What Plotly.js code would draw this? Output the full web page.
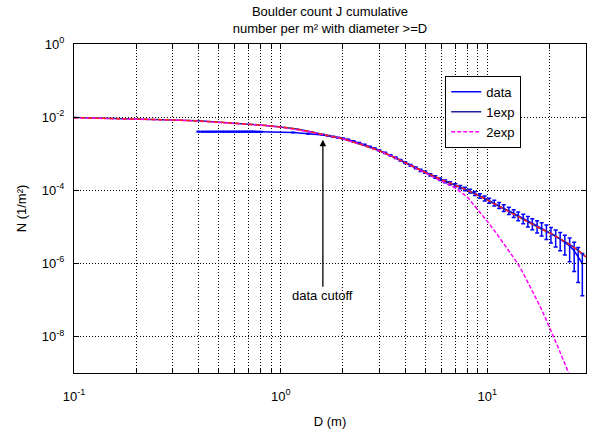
<!DOCTYPE html>
<html>
<head>
<meta charset="utf-8">
<script src="https://cdn.plot.ly/plotly-3.0.1.min.js"></script>
<style>html,body{margin:0;padding:0;background:#fff;}#chart{width:594px;height:433px;}</style>
</head>
<body>
<div id="chart"></div>
<script>
// Measured boulder data (cumulative number per m2 with diameter >= D)
var dataD = [0.40,0.42,0.44,0.46,0.48,0.50,0.52,0.54,0.56,0.58,0.60,0.62,0.64,0.66,0.68,0.70,0.72,0.74,0.76,0.78,0.80,
  1.15,1.36,1.6,1.7,1.8,1.9,2.0,2.12,2.25,2.4,2.55,2.7,2.85,3.0,3.2,3.4,3.6,3.8,4.0,4.25,4.5,4.75,5.0,5.3,5.6,5.9,
  6.25,6.6,7.0,7.4,7.8,8.25,8.7,9.2,9.7,10.2,10.8,11.4,12.0,12.7,13.4,14.1,14.9,15.7,16.5,17.4,18.3,19.3,20.3,
  21.4,22.5,23.7,25.0,26.3,27.5,28.8];
var dataN = [4.0e-3,4.0e-3,4.0e-3,4.0e-3,4.0e-3,4.0e-3,4.0e-3,4.0e-3,4.0e-3,4.0e-3,4.0e-3,4.0e-3,4.0e-3,4.0e-3,4.0e-3,4.0e-3,4.0e-3,4.0e-3,3.98e-3,3.97e-3,3.96e-3,
  3.8e-3,3.55e-3,3.25e-3,3.05e-3,2.9e-3,2.75e-3,2.6e-3,2.4e-3,2.2e-3,1.95e-3,1.75e-3,1.55e-3,1.38e-3,1.22e-3,1.05e-3,9.0e-4,7.7e-4,6.6e-4,5.7e-4,4.8e-4,4.1e-4,3.5e-4,3.1e-4,2.65e-4,2.3e-4,2.0e-4,
  1.75e-4,1.55e-4,1.38e-4,1.22e-4,1.08e-4,9.5e-5,8.2e-5,7.0e-5,6.0e-5,5.2e-5,4.5e-5,3.9e-5,3.3e-5,2.8e-5,2.35e-5,2.0e-5,1.7e-5,1.45e-5,1.25e-5,1.07e-5,9.2e-6,7.8e-6,6.6e-6,
  5.5e-6,4.6e-6,3.8e-6,3.0e-6,2.2e-6,1.5e-6,1.0e-6];
var dataErr = [8e-5,8e-5,8e-5,8e-5,8e-5,8e-5,8e-5,8e-5,8e-5,8e-5,8e-5,8e-5,8e-5,8e-5,8e-5,8e-5,8e-5,8e-5,8e-5,8e-5,8e-5,
  8e-5,8e-5,8e-5,7.5e-5,7.5e-5,7e-5,7e-5,7e-5,6.5e-5,6e-5,5.5e-5,5e-5,4.8e-5,4.5e-5,4.2e-5,3.8e-5,3.5e-5,3.3e-5,3.0e-5,2.7e-5,2.5e-5,2.3e-5,2.1e-5,1.9e-5,1.8e-5,1.6e-5,
  1.5e-5,1.45e-5,1.35e-5,1.3e-5,1.2e-5,1.1e-5,1.0e-5,9.5e-6,9.0e-6,8.3e-6,7.8e-6,7.2e-6,6.8e-6,6.3e-6,5.7e-6,5.3e-6,4.9e-6,4.6e-6,4.2e-6,3.9e-6,3.6e-6,3.3e-6,3.0e-6,
  2.7e-6,2.4e-6,2.1e-6,1.9e-6,1.6e-6,1.2e-6,0.87e-6];

// Fits
var fitD = [0.1,0.15,0.2,0.3,0.4,0.5,0.6,0.8,1.0,1.2,1.4,1.6,2.0,2.5,3.0,3.5,4.0,5.0,6.0,7.0,8.0,9.0,10,12,14,16,18,20,22,25,28,30];
var fit1N = [9.7e-3,9.3e-3,8.9e-3,8.4e-3,7.9e-3,7.3e-3,6.9e-3,6.1e-3,5.4e-3,4.7e-3,3.95e-3,3.3e-3,2.55e-3,1.72e-3,1.2e-3,8.2e-4,5.6e-4,3.1e-4,1.95e-4,1.4e-4,1.0e-4,7.2e-5,5.4e-5,3.1e-5,1.9e-5,1.25e-5,9.0e-6,6.8e-6,5.0e-6,3.3e-6,2.1e-6,1.5e-6];
var fit2D = [0.1,0.15,0.2,0.3,0.4,0.5,0.6,0.8,1.0,1.2,1.4,1.6,2.0,2.5,3.0,3.5,4.0,5.0,6.0,7.0,8.0,9.0,10,11,12,13,14,15,16,17,18,19,20,22,24,25,26];
var fit2N = [9.6e-3,9.2e-3,8.8e-3,8.3e-3,7.8e-3,7.2e-3,6.8e-3,6.0e-3,5.3e-3,4.6e-3,3.9e-3,3.3e-3,2.55e-3,1.72e-3,1.2e-3,8.2e-4,5.6e-4,3.05e-4,1.85e-4,1.15e-4,6.5e-5,3.0e-5,1.4e-5,6.9e-6,3.5e-6,1.9e-6,1.0e-6,5.0e-7,2.5e-7,1.3e-7,6.6e-8,3.4e-8,1.8e-8,5.0e-9,1.5e-9,8.5e-10,5.0e-10];

var xTickVals = [0.1,0.2,0.3,0.4,0.5,0.6,0.7,0.8,0.9,1,2,3,4,5,6,7,8,9,10,20];
var xTickText = ['10<sup>-1</sup>','','','','','','','','','10<sup>0</sup>','','','','','','','','','10<sup>1</sup>',''];
var yTickVals = [1,1e-2,1e-4,1e-6,1e-8];
var yTickText = ['10<sup>0</sup>','10<sup>-2</sup>','10<sup>-4</sup>','10<sup>-6</sup>','10<sup>-8</sup>'];

var FONT = 'Arial, "Liberation Sans", sans-serif';
var FS = 13;

var traces = [
  {x: dataD, y: dataN, name: 'data', mode: 'lines', type: 'scatter',
   line: {color: '#0000ff', width: 1.5},
   error_y: {type: 'data', array: dataErr, visible: true, color: '#0000ff', thickness: 1.5, width: 2}},
  {x: fitD, y: fit1N, name: '1exp', mode: 'lines', type: 'scatter',
   line: {color: '#20209a', width: 1.5}},
  {x: fit2D, y: fit2N, name: '2exp', mode: 'lines', type: 'scatter',
   line: {color: '#ff00ff', width: 1.5, dash: '4px,2px'}},
  {x: fitD, y: fit1N, name: 'fit', mode: 'lines', type: 'scatter', showlegend: false,
   line: {color: '#ff2020', width: 1.5, dash: '4px,3px'}}
];

var axisCommon = {
  showline: true, linecolor: '#000', linewidth: 1, mirror: 'ticks',
  ticks: 'inside', ticklen: 5, tickcolor: '#000', tickwidth: 1,
  showgrid: true, gridcolor: '#000', gridwidth: 1, griddash: '1px,2px',
  zeroline: false, tickfont: {family: FONT, size: FS, color: '#000'}
};

var layout = {
  width: 594, height: 433,
  margin: {l: 74, r: 8, t: 44, b: 60},
  paper_bgcolor: '#fff', plot_bgcolor: '#fff',
  font: {family: FONT, size: FS, color: '#000'},
  title: {text: 'Boulder count J cumulative<br>number per m² with diameter >=D',
          x: 0.5, xref: 'paper', xanchor: 'center', y: 1 - 16/433, yref: 'container', yanchor: 'middle',
          font: {family: FONT, size: FS, color: '#000'}},
  xaxis: Object.assign({}, axisCommon, {
    type: 'log', range: [-1, Math.log10(30)], tickmode: 'array', tickvals: xTickVals, ticktext: xTickText,
    ticklabelstandoff: 11,
    title: {text: 'D (m)', standoff: 14, font: {family: FONT, size: FS, color: '#000'}}
  }),
  yaxis: Object.assign({}, axisCommon, {
    type: 'log', range: [-9, 0], tickmode: 'array', tickvals: yTickVals, ticktext: yTickText,
    ticklabelstandoff: 6,
    title: {text: 'N (1/m²)', standoff: 12, font: {family: FONT, size: FS, color: '#000'}}
  }),
  legend: {x: 0.725, y: 0.903, xanchor: 'left', yanchor: 'top', bgcolor: '#fff', bordercolor: '#000', borderwidth: 1,
           font: {family: FONT, size: FS, color: '#000'}, itemwidth: 30, tracegroupgap: 0},
  showlegend: true,
  annotations: [{
    x: Math.log10(1.6), y: -2.62, xref: 'x', yref: 'y', text: 'data cutoff',
    showarrow: true, arrowhead: 2, arrowsize: 1, arrowwidth: 1.3, arrowcolor: '#000',
    ax: 0, ay: 156, font: {family: FONT, size: FS, color: '#000'}
  }]
};

Plotly.newPlot('chart', traces, layout, {displayModeBar: false, staticPlot: true});
</script>
</body>
</html>
